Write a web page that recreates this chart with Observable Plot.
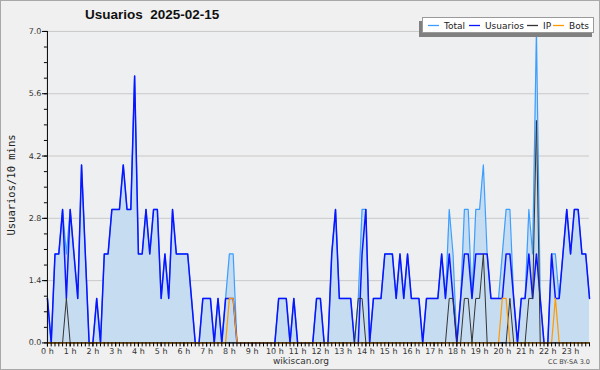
<!DOCTYPE html>
<html>
<head>
<meta charset="utf-8">
<script src="https://cdn.jsdelivr.net/npm/d3@7"></script>
<script src="https://cdn.jsdelivr.net/npm/@observablehq/plot@0.6"></script>
<style>
  html, body { margin: 0; padding: 0; background: #f0f0f0; }
  #wrap { position: relative; width: 600px; height: 370px; box-sizing: border-box; border: 1px solid #a8a8a8; background: #f0f0f0; overflow: hidden; font-family: "DejaVu Sans", sans-serif; }
  #chart { position: absolute; left: -1px; top: -1px; }
  .abs { position: absolute; white-space: pre; }
  #title { left: 84px; top: 6px; font: bold 13.5px "Liberation Sans", Arial, sans-serif; color: #111; }
  #ylab { left: 10px; top: 184px; transform: translate(-50%, -50%) rotate(-90deg); font: 10.5px "DejaVu Sans Mono", monospace; color: #222; }
  #foot { left: 300px; top: 355px; transform: translateX(-50%); font: 9px "DejaVu Sans", sans-serif; color: #333; }
  #cc { right: 9px; top: 357px; font: 6.5px "DejaVu Sans", sans-serif; color: #444; }
  #legend { left: 416px; top: 14px; }
</style>
</head>
<body>
<div id="wrap">
  <div id="chart"></div>
  <div id="title" class="abs"></div>
  <div id="ylab" class="abs"></div>
  <div id="legend" class="abs"></div>
  <div id="foot" class="abs"></div>
  <div id="cc" class="abs"></div>
</div>
<script>
// ---- Data (10-minute intervals, 00:00 to 23:50) ----
const titleText = "Usuarios  2025-02-15";
const yLabel = "Usuarios/10 mins";
const hourLabels = ["0 h","1 h","2 h","3 h","4 h","5 h","6 h","7 h","8 h","9 h","10 h","11 h",
                    "12 h","13 h","14 h","15 h","16 h","17 h","18 h","19 h","20 h","21 h","22 h","23 h"];
const yTicks = [0, 1.4, 2.8, 4.2, 5.6, 7.0];
const seriesNames = ["Total", "Usuarios", "IP", "Bots"];
const seriesColors = ["#3c9eff", "#0a14ff", "#333333", "#ff9a00"];

const total = [
  1,0,2,2,3,2,3,2,1,4,2,0,
  0,1,0,2,2,3,3,3,4,3,3,6,
  2,2,3,2,3,3,1,2,1,3,2,2,
  2,2,1,0,0,1,1,1,0,1,0,1,
  2,2,0,0,0,0,0,0,0,0,0,0,
  0,1,1,1,0,1,0,0,0,0,0,1,
  1,0,0,2,3,1,1,1,1,0,1,3,
  3,0,1,1,1,2,2,2,1,2,1,2,
  1,1,1,0,1,1,1,1,2,1,3,2,
  0,1,3,3,1,3,3,4,2,1,1,1,
  2,3,3,1,0,1,1,3,2,7,1,0,
  0,2,2,1,2,3,2,3,3,2,2,1
];
const usuarios = [
  1,0,2,2,3,1,3,2,1,4,2,0,
  0,1,0,2,2,3,3,3,4,3,3,6,
  2,2,3,2,3,3,1,2,1,3,2,2,
  2,2,1,0,0,1,1,1,0,1,0,1,
  1,1,0,0,0,0,0,0,0,0,0,0,
  0,1,1,1,0,1,0,0,0,0,0,1,
  1,0,0,2,3,1,1,1,1,0,0,2,
  3,0,1,1,1,2,2,2,1,2,1,2,
  1,1,1,0,1,1,1,1,2,1,2,1,
  0,1,2,2,1,2,2,2,2,1,1,1,
  1,2,2,1,0,1,1,2,1,2,1,0,
  0,2,1,1,2,3,2,3,3,2,2,1
];
const ip = [
  0,0,0,0,0,1,0,0,0,0,0,0,
  0,0,0,0,0,0,0,0,0,0,0,0,
  0,0,0,0,0,0,0,0,0,0,0,0,
  0,0,0,0,0,0,0,0,0,0,0,0,
  0,0,0,0,0,0,0,0,0,0,0,0,
  0,0,0,0,0,0,0,0,0,0,0,0,
  0,0,0,0,0,0,0,0,0,0,1,1,
  0,0,0,0,0,0,0,0,0,0,0,0,
  0,0,0,0,0,0,0,0,0,0,1,1,
  0,0,1,1,0,1,1,2,0,0,0,0,
  0,0,1,0,0,0,0,1,1,5,0,0,
  0,0,0,0,0,0,0,0,0,0,0,0
];
const bots = [
  0,0,0,0,0,0,0,0,0,0,0,0,
  0,0,0,0,0,0,0,0,0,0,0,0,
  0,0,0,0,0,0,0,0,0,0,0,0,
  0,0,0,0,0,0,0,0,0,0,0,0,
  1,1,0,0,0,0,0,0,0,0,0,0,
  0,0,0,0,0,0,0,0,0,0,0,0,
  0,0,0,0,0,0,0,0,0,0,0,0,
  0,0,0,0,0,0,0,0,0,0,0,0,
  0,0,0,0,0,0,0,0,0,0,0,0,
  0,0,0,0,0,0,0,0,0,0,0,0,
  1,1,0,0,0,0,0,0,0,0,0,0,
  0,0,1,0,0,0,0,0,0,0,0,0
];

// ---- Build table ----
const rows = total.map((t, i) => ({i, total: t, usuarios: usuarios[i], ip: ip[i], bots: bots[i]}));

const minorY = d3.range(0, 21).map(k => +(k * 0.35).toFixed(2));

const chart = Plot.plot({
  width: 600,
  height: 370,
  marginLeft: 47,
  marginRight: 10,
  marginTop: 31,
  marginBottom: 27,
  style: {background: "transparent", fontFamily: "DejaVu Sans, sans-serif", fontSize: "8px", color: "#333"},
  x: {domain: [0, 143]},
  y: {domain: [0, 7]},
  marks: [
    Plot.frame({fill: "#eeeff1", stroke: null}),
    Plot.gridY(yTicks, {stroke: "#c9c9c9", strokeOpacity: 1}),
    Plot.areaY(rows, {x: "i", y: "total", fill: "#c6dcf0", fillOpacity: 1}),
    Plot.lineY(rows, {x: "i", y: "total", stroke: seriesColors[0], strokeWidth: 1.2}),
    Plot.lineY(rows, {x: "i", y: "usuarios", stroke: seriesColors[1], strokeWidth: 1.5}),
    Plot.lineY(rows, {x: "i", y: "ip", stroke: seriesColors[2], strokeWidth: 1}),
    Plot.lineY(rows, {x: "i", y: "bots", stroke: seriesColors[3], strokeWidth: 1.2}),
    Plot.ruleY([0], {stroke: "#000"}),
    Plot.ruleX([0], {stroke: "#000"}),
    Plot.axisY(minorY, {tickSize: 3, tickFormat: () => "", label: null, stroke: "#000"}),
    Plot.axisY(yTicks, {tickSize: 5, tickPadding: 1, tickFormat: d => d.toFixed(1), label: null, stroke: "#000"}),
    Plot.axisX(d3.range(0, 144), {tickSize: 4, tickFormat: () => "", label: null, stroke: "#000"}),
    Plot.axisX(d3.range(0, 144, 6), {tickSize: 4, tickPadding: 1, tickFormat: d => hourLabels[d / 6], label: null, stroke: "#000"})
  ]
});
document.getElementById("chart").appendChild(chart);

document.getElementById("title").textContent = titleText;
document.getElementById("ylab").textContent = yLabel;
document.getElementById("foot").textContent = "wikiscan.org";
document.getElementById("cc").textContent = "CC BY-SA 3.0";

// Legend (drawn as a small SVG)
const swX = [11, 52, 110, 136];
const txX = [27, 68, 126, 152];
const NS = "http://www.w3.org/2000/svg";
const lsvg = document.createElementNS(NS, "svg");
lsvg.setAttribute("width", 182);
lsvg.setAttribute("height", 24);
const mk = (tag, attrs) => { const e = document.createElementNS(NS, tag); for (const k in attrs) e.setAttribute(k, attrs[k]); lsvg.appendChild(e); return e; };
mk("rect", {x: 2, y: 6, width: 173, height: 16, fill: "#808080"});
mk("rect", {x: 5.5, y: 2.5, width: 171, height: 15, fill: "#fff", stroke: "#9a9a9a", "stroke-width": 1});
seriesNames.forEach((n, k) => {
  mk("line", {x1: swX[k], x2: swX[k] + 11, y1: 10.5, y2: 10.5, stroke: seriesColors[k], "stroke-width": 1.3});
  const t = mk("text", {x: txX[k], y: 14, "font-family": "DejaVu Sans, sans-serif", "font-size": "9px", fill: "#222"});
  t.textContent = n;
});
document.getElementById("legend").appendChild(lsvg);
</script>
</body>
</html>
